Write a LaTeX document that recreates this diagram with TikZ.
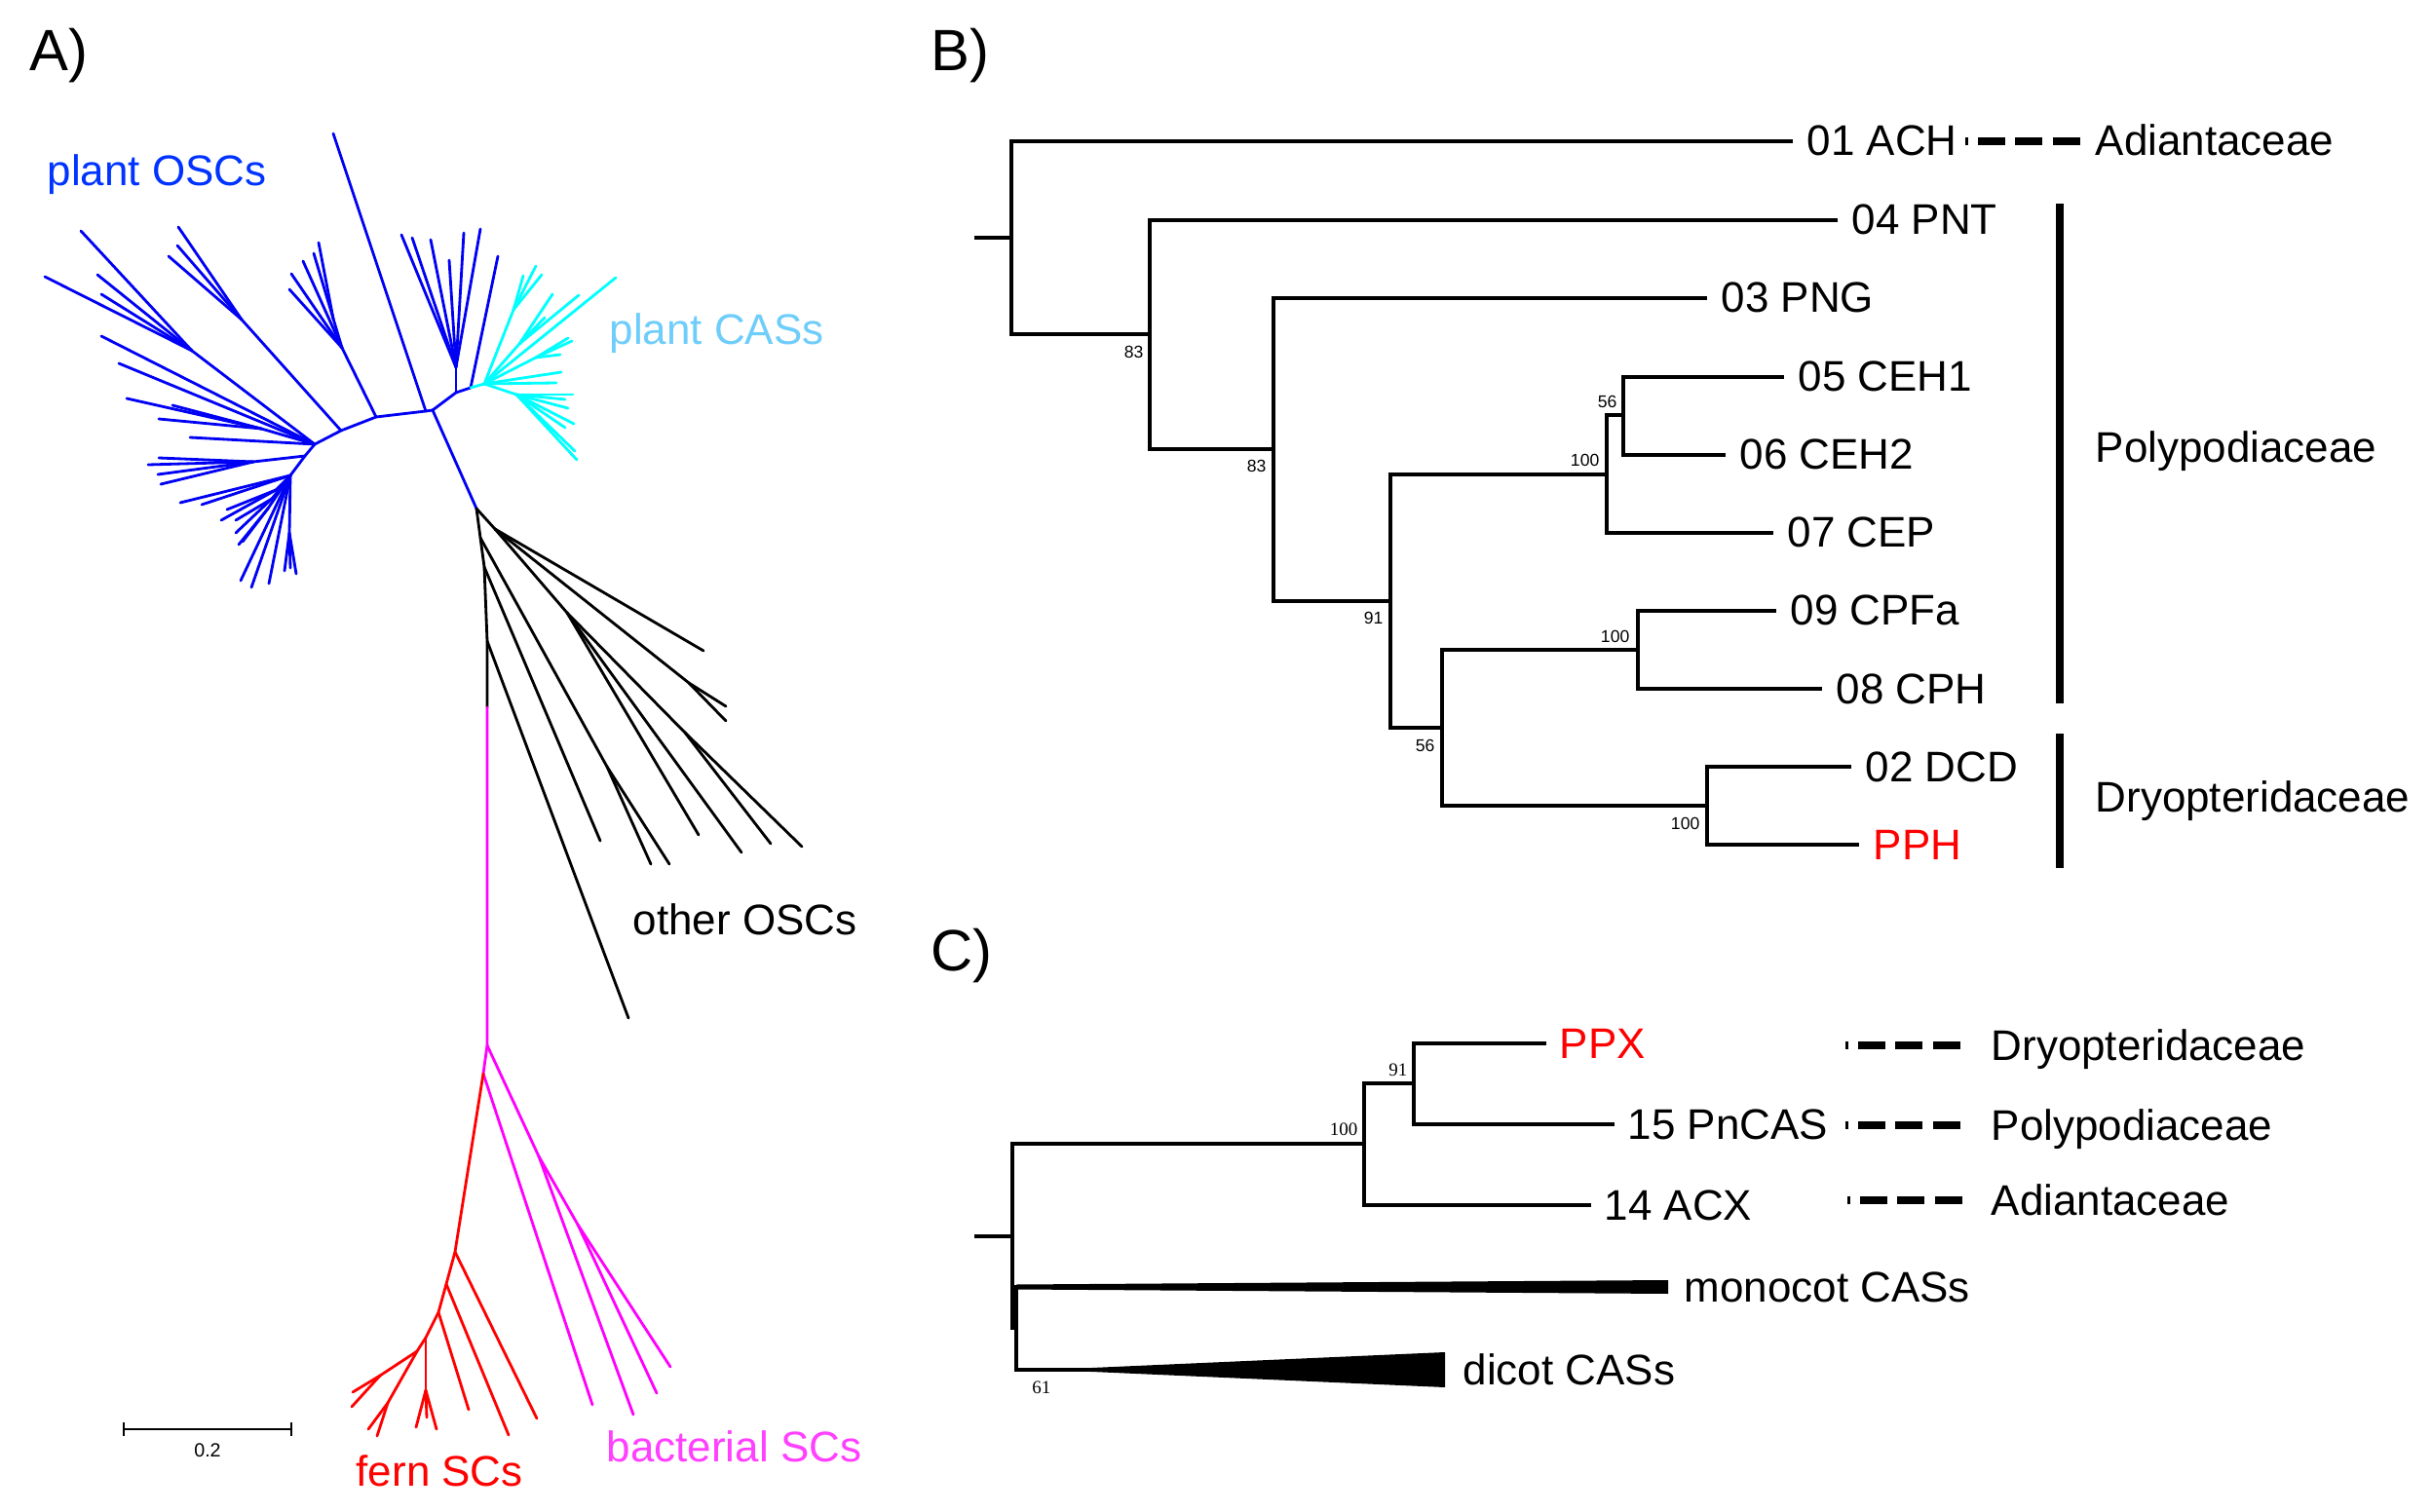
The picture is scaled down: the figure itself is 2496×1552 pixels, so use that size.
\documentclass[tikz,border=0pt]{standalone}
\usepackage{fontspec}
\setmainfont{Liberation Sans}
\newfontfamily\serifnum{Liberation Serif}
\definecolor{treeblue}{RGB}{0,0,245}
\definecolor{lblblue}{RGB}{0,51,255}
\definecolor{treecyan}{RGB}{0,255,255}
\definecolor{lblcyan}{RGB}{110,205,250}
\definecolor{treemag}{RGB}{255,0,255}
\definecolor{lblmag}{RGB}{255,64,255}
\definecolor{treered}{RGB}{255,0,0}
\newcommand\tipto[3]{\coordinate (#2) at (#3); \draw (#1) -- (#2);}
\tikzset{
  ubr/.style={line width=0.8pt, line cap=round, line join=round},
  rbr/.style={line width=1pt},
  lbl/.style={font=\fontsize{12.5}{15}\selectfont, inner sep=0pt, anchor=west, text height=9.1pt, text depth=0pt},
  alabel/.style={font=\fontsize{12.5}{15}\selectfont, inner sep=0pt, anchor=west, text height=9.1pt, text depth=0pt},
  boot/.style={font=\fontsize{5}{6}\selectfont, inner sep=0pt, anchor=east, text height=3.6pt, text depth=0pt},
  bootc/.style={font=\serifnum\fontsize{5.4}{6}\selectfont, inner sep=0pt, anchor=east, text height=3.6pt, text depth=0pt},
  panel/.style={font=\fontsize{17}{20}\selectfont, inner sep=0pt, anchor=base west},
  grpbar/.style={line width=2.3pt},
  legdash/.style={line width=2pt, dash pattern=on 8pt off 2.85pt, dash phase=7.1pt}
}
\begin{document}
\begin{tikzpicture}[x=0.01cm,y=-0.01cm]
\useasboundingbox (0,0) rectangle (2496,1552);
\fill[white] (0,0) rectangle (2496,1552);

% panel labels
\node[panel] (labA) at (30,73) {A)};
\node[panel] (labB) at (955,73) {B)};
\node[panel] (labC) at (955,996) {C)};

% ================= Panel A =================
% --- blue (plant OSCs)
\begin{scope}[ubr, treeblue]
\coordinate (Jc) at (437,422);
\coordinate (Ja) at (444,421);
\coordinate (Ttop) at (342,137);
\draw (Jc) -- (Ttop);
\draw (Jc) -- (Ja);
\coordinate (Ab1) at (468,403);
\coordinate (Ab2) at (483,398);
\draw (Ja) -- (Ab1) -- (Ab2);
\coordinate (Bk0) at (489,522);
\draw (Ja) -- (Bk0);
\coordinate (L1) at (386,428);
\coordinate (L2) at (350,442);
\coordinate (L3) at (323,456);
\coordinate (L4) at (313,468);
\coordinate (L5) at (298,488);
\draw (Jc) -- (L1) -- (L2) -- (L3) -- (L4) -- (L5);
% F1
\coordinate (F1) at (351,357); \draw (L1) -- (F1);
\coordinate (F1a) at (342,327); \draw (F1) -- (F1a);
\tipto{F1a}{a1}{327,249}
\tipto{F1a}{a2}{322,260}
\tipto{F1}{a3}{311,268}
\tipto{F1}{a4}{299,281}
\tipto{F1}{a5}{297,297}
% F2
\coordinate (F2) at (248,328); \draw (L2) -- (F2);
\tipto{F2}{b1}{183,233}
\tipto{F2}{b2}{182,252}
\tipto{F2}{b3}{173,263}
% F3
\coordinate (F3) at (197,360); \draw (L3) -- (F3);
\tipto{F3}{c1}{83,237}
\tipto{F3}{c2}{100,282}
\tipto{F3}{c3}{104,302}
\tipto{F3}{c4}{46,284}
\tipto{L3}{c5}{104,345}
\tipto{L3}{c6}{122,373}
% F4
\coordinate (F4) at (268,440); \draw (L3) -- (F4);
\tipto{F4}{d1}{130,409}
\tipto{F4}{d2}{177,416}
\tipto{F4}{d3}{163,430}
\tipto{L3}{d4}{195,449}
\coordinate (F4b) at (260,474); \draw (L4) -- (F4b);
\tipto{F4b}{d5}{152,477}
\tipto{F4b}{d6}{163,470}
\tipto{F4b}{d7}{162,487}
\tipto{F4b}{d8}{165,497}
% F5
\tipto{L5}{e1}{185,516}
\tipto{L5}{e2}{207,518}
\coordinate (F5a) at (283,503); \draw (L5) -- (F5a);
\tipto{F5a}{e3}{233,523}
\tipto{F5a}{e4}{227,534}
\coordinate (F5b) at (279,512); \draw (L5) -- (F5b);
\tipto{F5b}{e5}{242,534}
\tipto{F5b}{e6}{242,547}
\coordinate (F5c) at (275,522); \draw (L5) -- (F5c);
\tipto{F5c}{e7}{245,559}
\tipto{F5c}{e8}{249,556}
\tipto{L5}{e9}{247,596}
\tipto{L5}{e10}{258,603}
\tipto{L5}{e11}{276,599}
\coordinate (F5d) at (297,547); \draw (L5) -- (F5d);
\tipto{F5d}{e12}{292,586}
\tipto{F5d}{e13}{298,583}
\tipto{F5d}{e14}{304,589}
% F6
\coordinate (F6) at (468,377); \draw (Ab1) -- (F6);
\tipto{F6}{f1}{412,241}
\tipto{F6}{f2}{423,244}
\tipto{F6}{f3}{442,246}
\tipto{F6}{f4}{461,267}
\tipto{F6}{f5}{476,239}
\tipto{F6}{f6}{493,235}
\tipto{Ab2}{f7}{511,263}
\end{scope}
\node[alabel, text=lblblue] (lplantosc) at (48,175) {plant OSCs};

% --- cyan (plant CASs)
\begin{scope}[ubr, treecyan]
\coordinate (Cy0) at (497,394); \draw (Ab2) -- (Cy0);
\coordinate (Cya) at (527,318); \draw (Cy0) -- (Cya);
\tipto{Cya}{g1}{537,283}
\tipto{Cya}{g2}{550,273}
\tipto{Cya}{g3}{556,282}
\tipto{Cy0}{g4}{632,285}
\coordinate (Cyb) at (533,353); \draw (Cy0) -- (Cyb);
\tipto{Cyb}{g5}{567,302}
\tipto{Cyb}{g6}{594,303}
\tipto{Cyb}{g7}{559,326}
\coordinate (Cyc) at (550,367); \draw (Cy0) -- (Cyc);
\tipto{Cyc}{g8}{583,347}
\tipto{Cyc}{g9}{587,350}
\tipto{Cyc}{g10}{575,364}
\tipto{Cy0}{g11}{576,382}
\tipto{Cy0}{g12}{571,393}
\coordinate (Cyd) at (530,405); \draw (Cy0) -- (Cyd);
\tipto{Cyd}{g13}{588,405}
\tipto{Cyd}{g14}{580,410}
\tipto{Cyd}{g15}{583,419}
\tipto{Cyd}{g16}{589,435}
\tipto{Cyd}{g17}{580,439}
\tipto{Cyd}{g18}{590,463}
\tipto{Cyd}{g19}{592,472}
\end{scope}
\node[alabel, text=lblcyan] (lplantcas) at (625,338) {plant CASs};

% --- black (other OSCs)
\begin{scope}[ubr, black]
\coordinate (Bk1) at (493,552);
\coordinate (Bk2) at (497,582);
\coordinate (Bk3) at (500,658);
\coordinate (Bk4) at (500,726);
\draw (Bk0) -- (Bk1) -- (Bk2) -- (Bk3) -- (Bk4);
\coordinate (Bn) at (508,543); \draw (Bk0) -- (Bn);
\tipto{Bn}{h1}{722,668}
\coordinate (Bna) at (707,701); \draw (Bn) -- (Bna);
\tipto{Bna}{h2}{745,725}
\tipto{Bna}{h3}{745,740}
\coordinate (Bnb) at (582,629); \draw (Bn) -- (Bnb);
\tipto{Bnb}{h4}{717,857}
\tipto{Bnb}{h5}{761,875}
\coordinate (Bnc) at (703,752); \draw (Bnb) -- (Bnc);
\tipto{Bnc}{h6}{791,866}
\tipto{Bnc}{h7}{823,869}
\coordinate (Bnd) at (623,787); \draw (Bk1) -- (Bnd);
\tipto{Bnd}{h8}{687,887}
\tipto{Bnd}{h9}{668,887}
\tipto{Bk2}{h10}{616,863}
\tipto{Bk3}{h11}{645,1045}
\end{scope}
\node[alabel] (lother) at (649,943) {other OSCs};

% --- magenta (bacterial SCs)
\begin{scope}[ubr, treemag]
\coordinate (M0) at (500,1073);
\coordinate (Mr) at (496,1102);
\draw (Bk4) -- (M0) -- (Mr);
\coordinate (M1) at (553,1187); \draw (M0) -- (M1);
\coordinate (M2) at (593,1257); \draw (M1) -- (M2);
\tipto{M2}{m1}{688,1403}
\tipto{M2}{m2}{674,1430}
\tipto{M1}{m3}{650,1452}
\tipto{Mr}{m4}{608,1442}
\end{scope}
\node[alabel, text=lblmag] (lbact) at (622,1484) {bacterial SCs};

% --- red (fern SCs)
\begin{scope}[ubr, treered]
\coordinate (R1) at (467,1285);
\coordinate (R2) at (458,1318);
\coordinate (R3) at (450,1347);
\coordinate (R4) at (437,1373);
\draw (Mr) -- (R1) -- (R2) -- (R3) -- (R4);
\tipto{R1}{r1}{551,1456}
\tipto{R2}{r2}{522,1473}
\tipto{R3}{r3}{481,1447}
\coordinate (R5) at (437,1427); \draw (R4) -- (R5);
\tipto{R5}{r4}{427,1465}
\tipto{R5}{r5}{438,1455}
\tipto{R5}{r6}{448,1467}
\coordinate (R6) at (428,1387); \draw (R4) -- (R6);
\coordinate (R7) at (390,1412); \draw (R6) -- (R7);
\tipto{R7}{r7}{362,1429}
\tipto{R7}{r8}{361,1444}
\coordinate (R8) at (398,1440); \draw (R6) -- (R8);
\tipto{R8}{r9}{378,1467}
\tipto{R8}{r10}{387,1474}
\end{scope}
\node[alabel, text=treered] (lfern) at (365,1509) {fern SCs};

% scale bar
\coordinate (sb1) at (127,1467);
\coordinate (sb2) at (299,1467);
\draw[line width=0.45pt] (sb1) -- (sb2);
\draw[line width=0.45pt] ([yshift=0.07cm]sb1) -- ([yshift=-0.07cm]sb1);
\draw[line width=0.45pt] ([yshift=0.07cm]sb2) -- ([yshift=-0.07cm]sb2);
\node[font=\fontsize{5.6}{7}\selectfont, inner sep=0pt] (sbl) at (213,1489) {0.2};

% ================= Panel B =================
\node[lbl] (ACH) at (1854,144) {01 ACH};
\node[lbl] (PNT) at (1900,225) {04 PNT};
\node[lbl] (PNG) at (1766,305) {03 PNG};
\node[lbl] (CEH1) at (1845,386) {05 CEH1};
\node[lbl] (CEH2) at (1785,466) {06 CEH2};
\node[lbl] (CEP) at (1834,546) {07 CEP};
\node[lbl] (CPFa) at (1837,626) {09 CPFa};
\node[lbl] (CPH) at (1884,706) {08 CPH};
\node[lbl] (DCD) at (1914,786) {02 DCD};
\node[lbl, text=treered] (PPH) at (1922,866) {PPH};
\foreach \n in {ACH,PNT,PNG,CEH1,CEH2,CEP,CPFa,CPH,DCD,PPH}
  \coordinate (e\n) at ([xshift=-0.14cm,yshift=-0.01cm]\n.west);

\coordinate (bst) at (1000,244);
\coordinate (nRoot) at (1038,244);
\coordinate (n83a) at (1180,343);
\coordinate (n83b) at (1307,461);
\coordinate (n91) at (1427,617);
\coordinate (n100a) at (1649,487);
\coordinate (n56a) at (1666,426);
\coordinate (n56b) at (1480,747);
\coordinate (n100b) at (1681,667);
\coordinate (n100c) at (1752,827);
\begin{scope}[rbr]
\draw (bst) -- (nRoot);
\draw (eACH) -| (nRoot) |- (n83a);
\draw (ePNT) -| (n83a) |- (n83b);
\draw (ePNG) -| (n83b) |- (n91);
\draw (n100a) -| (n91) |- (n56b);
\draw (n56a) -| (n100a) |- (eCEP);
\draw (eCEH1) -| (n56a) |- (eCEH2);
\draw (n100b) -| (n56b) |- (n100c);
\draw (eCPFa) -| (n100b) |- (eCPH);
\draw (eDCD) -| (n100c) |- (ePPH);
\end{scope}
\node[boot] (bs1) at (1174,361) {83};
\node[boot] (bs2) at (1300,478) {83};
\node[boot] (bs3) at (1660,412) {56};
\node[boot] (bs4) at (1642,472) {100};
\node[boot] (bs5) at (1420,634) {91};
\node[boot] (bs6) at (1673,653) {100};
\node[boot] (bs7) at (1473,765) {56};
\node[boot] (bs8) at (1745,845) {100};

\node[lbl] (gAd) at (2150,144) {Adiantaceae};
\node[lbl] (gPo) at (2150,459) {Polypodiaceae};
\node[lbl] (gDr) at (2150,817) {Dryopteridaceae};
\coordinate (pbT) at (2114,209);
\coordinate (pbB) at (2114,722);
\coordinate (dbT) at (2114,753);
\coordinate (dbB) at (2114,891);
\draw[grpbar] (pbT) -- (pbB);
\draw[grpbar] (dbT) -- (dbB);
\coordinate (dA1) at (2017,145);
\coordinate (dA2) at (2136,145);
\draw[legdash] (dA1) -- (dA2);

% ================= Panel C =================
\node[lbl, text=treered] (PPX) at (1600,1070) {PPX};
\node[lbl] (PnCAS) at (1670,1153) {15 PnCAS};
\node[lbl] (ACX) at (1646,1236) {14 ACX};
\node[lbl] (mono) at (1728,1320) {monocot CASs};
\node[lbl] (dicot) at (1501,1405) {dicot CASs};
\foreach \n in {PPX,PnCAS,ACX}
  \coordinate (e\n) at ([xshift=-0.13cm,yshift=-0.01cm]\n.west);
\coordinate (cst) at (1000,1269);
\coordinate (cRoot) at (1039,1269);
\coordinate (c100) at (1400,1174);
\coordinate (c91) at (1451,1112);
\coordinate (c61) at (1043,1363);
\coordinate (mw) at (1712,1321);
\coordinate (dw) at (1483,1406);
\begin{scope}[rbr]
\draw (cst) -- (cRoot);
\draw (c100) -| (cRoot) |- (c61);
\draw (c91) -| (c100) |- (eACX);
\draw (ePPX) -| (c91) |- (ePnCAS);
\draw (mw) -| (c61) |- (dw);
\end{scope}
\fill (1043,1318.5) -- (1712,1314) -- (1712,1328) -- (1043,1323.5) -- cycle;
\fill (1075,1406) -- (1483,1388) -- (1483,1424) -- cycle;
\node[bootc] (cb1) at (1394,1159) {100};
\node[bootc] (cb2) at (1445,1098) {91};
\node[bootc] (cb3) at (1079,1424) {61};

\node[lbl] (lDr) at (2043,1072) {Dryopteridaceae};
\node[lbl] (lPo) at (2043,1154) {Polypodiaceae};
\node[lbl] (lAd) at (2043,1231) {Adiantaceae};
\coordinate (dc1) at (1894,1073);
\coordinate (dc2) at (1894,1155);
\coordinate (dc3) at (1896,1232);
\coordinate (dd1) at (2013,1073);
\coordinate (dd2) at (2013,1155);
\coordinate (dd3) at (2015,1232);
\draw[legdash] (dc1) -- (dd1);
\draw[legdash] (dc2) -- (dd2);
\draw[legdash] (dc3) -- (dd3);
\end{tikzpicture}
\end{document}
